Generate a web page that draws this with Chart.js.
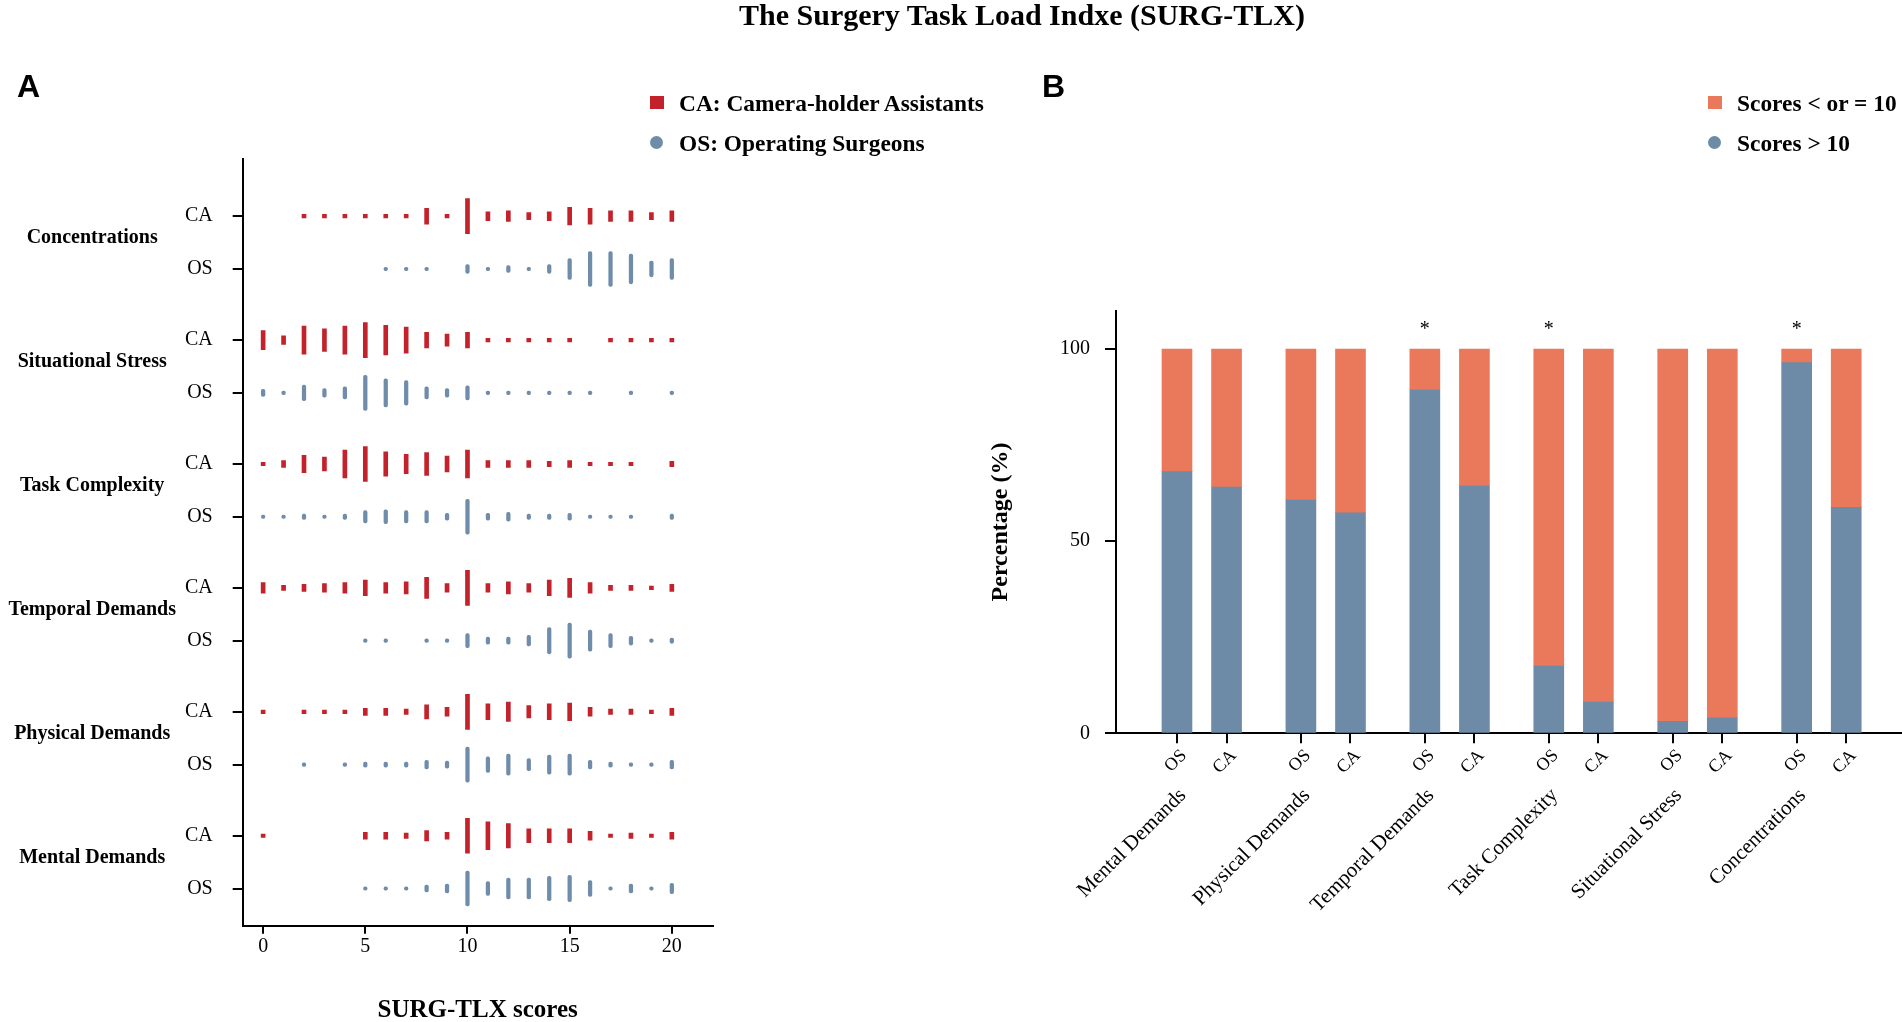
<!DOCTYPE html>
<html><head><meta charset="utf-8">
<script src="https://cdn.jsdelivr.net/npm/chart.js@4.4.1/dist/chart.umd.min.js"></script>
<style>
html,body{margin:0;padding:0;width:1902px;height:1022px;overflow:hidden;background:#fff;}
.abs{position:absolute;}
#title{left:739px;top:0;font:bold 30px/30px "Liberation Serif","Times New Roman",serif;color:#000;white-space:nowrap;}
.panel{top:70px;font:bold 32px/32px "Liberation Sans",Arial,sans-serif;color:#000;}
.leg{position:absolute;height:26px;display:flex;align-items:center;white-space:nowrap;font:bold 23.4px/26px "Liberation Serif","Times New Roman",serif;color:#000;}
.mk{display:flex;align-items:center;justify-content:center;width:15px;height:26px;}
</style></head><body>
<canvas id="cA" class="abs" width="760" height="1026" style="left:0;top:0;width:760px;height:1026px"></canvas>
<canvas id="cB" class="abs" width="916" height="1022" style="left:986px;top:0;width:916px;height:1022px"></canvas>
<div id="title" class="abs">The Surgery Task Load Indxe (SURG-TLX)</div>
<div class="abs panel" style="left:17px">A</div>
<div class="abs panel" style="left:1042px">B</div>
<div id="legends"></div>
<script>
// ---------- DATA ----------
const scores = [0,1,2,3,4,5,6,7,8,9,10,11,12,13,14,15,16,17,18,19,20];
const groups = ['Mental Demands','Physical Demands','Temporal Demands','Task Complexity','Situational Stress','Concentrations'];
const xTicksA = [0,5,10,15,20];

// Panel A: relative frequency of each score (mark length), per dimension and role
const caMental        = [1,0,0,0,0,2,2,1.5,3,2,10,8,7,4,4,4,2.5,1,1.5,1,2];
const osMental        = [0,0,0,0,0,1,1,1,2,2.5,10,4,6,6,7,7.5,4.5,1,2.5,1,3];
const caPhysical      = [1,0,1,1,1,2,2,1.5,4,2.5,10,4.5,5.5,3.5,4.5,5,2.5,1.5,1.5,1,2];
const osPhysical      = [0,0,1,0,1,1.5,1.5,1.5,2.5,2,10,4.5,6,3.5,5.5,6,2.5,1.5,1,1,2.5];
const caTemporal      = [3,1.5,2,2.5,3,4.5,3,3.5,6,2.5,10,2.5,3.5,2.5,4.5,5.5,3,1.5,1.5,1,2];
const osTemporal      = [0,0,0,0,0,1,1,0,1,1,4,2,2,3,7.5,10,6,4,2.5,1,1.5];
const caTask          = [1,2,5,4,8,10,7,5.5,6.5,4.5,8,2,2,2,1.5,2,1,1,1,0,1.5];
const osTask          = [1,1,1.5,1,1.5,3.5,4,3.5,3.5,2,10,2,2.5,1.5,1.5,2,1,1,1,0,1.5];
const caSituational   = [5.5,2.5,8,6.5,8,10,8.5,7.5,4.5,3.5,4.5,1,1,1,1,1,0,1,1,1,1];
const osSituational   = [2,1,4.5,2.5,3.5,10,8,7,3.5,2.5,4,1,1,1,1,1,1,0,1,0,1];
const caConcentration = [0,0,1,1,1,1,1,1,4.5,1,10,2.5,3,2,2.5,5,4.5,3,3,2,3];
const osConcentration = [0,0,0,0,0,0,1,1,1,0,2.5,1,2,1,2.5,6,10,10,8.5,4.5,6];

// Panel B: percentages
const osAbove10  = [68.1, 60.7, 89.5, 17.5, 3.1, 96.5];
const caAbove10  = [64.1, 57.4, 64.5, 8.1, 4.0, 58.8];
const osAtMost10 = [31.9, 39.3, 10.5, 82.5, 96.9, 3.5];
const caAtMost10 = [35.9, 42.6, 35.5, 91.9, 96.0, 41.2];
const significant = [false, false, true, true, false, true];
const yTicksB = [0, 50, 100];

// ---------- STYLE / LAYOUT ----------
const SERIF = '"Liberation Serif","Times New Roman",serif';
const RED = '#C3222B', BLUE = '#6F8DAB', ORANGE_B = '#EA785A', BLUE_B = '#6D8AA7';
const CA_OFFSET_A = 0.426, GROUP_LABEL_OFFSET_A = 0.25, HALF_PER_UNIT = 0.01412;
const CA_OFFSET_B = 0.4;

const caRows = [caMental, caPhysical, caTemporal, caTask, caSituational, caConcentration];
const osRows = [osMental, osPhysical, osTemporal, osTask, osSituational, osConcentration];

function stripData(rows, offset) {
  const out = [];
  rows.forEach((row, g) => row.forEach((v, i) => {
    if (v > 0) { const c = g + offset; out.push({x: scores[i], y: [c - v * HALF_PER_UNIT, c + v * HALF_PER_UNIT]}); }
  }));
  return out;
}
const rowTicks = [], rowLabels = [];
groups.forEach((g, i) => { rowTicks.push(i); rowLabels.push('OS'); rowTicks.push(i + CA_OFFSET_A); rowLabels.push('CA'); });
const groupTicksA = groups.map((g, i) => i + GROUP_LABEL_OFFSET_A);

const axisGrid = (len) => ({drawOnChartArea: false, offset: false, color: '#000', lineWidth: 2, tickLength: len});
const axisBorder = {display: true, color: '#000', width: 2};

const chartA = new Chart(document.getElementById('cA'), {
  type: 'bar',
  data: {datasets: [
    {label: 'CA: Camera-holder Assistants', data: stripData(caRows, CA_OFFSET_A), backgroundColor: RED,
     barThickness: 4, grouped: false, borderWidth: 0, borderRadius: 0, legendShape: 'rect'},
    {label: 'OS: Operating Surgeons', data: stripData(osRows, 0), backgroundColor: BLUE,
     barThickness: 3.6, grouped: false, borderWidth: 0, borderRadius: 2, borderSkipped: false, legendShape: 'circle'}
  ]},
  options: {
    responsive: false, animation: false, events: [],
    layout: {padding: {top: 159.3, right: 47.3, bottom: 0, left: 0}},
    plugins: {legend: {display: false}, tooltip: {enabled: false}},
    scales: {
      x: {type: 'linear', min: -1, max: 22, offset: false,
          afterBuildTicks: s => { s.ticks = xTicksA.map(v => ({value: v})); },
          afterFit: s => { s.height = 100.3; },
          grid: axisGrid(8), border: axisBorder,
          ticks: {color: '#000', font: {family: SERIF, size: 20}, padding: 1, maxRotation: 0, autoSkip: false},
          title: {display: true, text: 'SURG-TLX scores', color: '#000', font: {family: SERIF, size: 25, weight: 'bold'}, padding: 0}},
      y: {type: 'linear', position: 'left', weight: 0, min: -0.3, max: 5.885,
          afterBuildTicks: s => { s.ticks = rowTicks.map(v => ({value: v})); },
          afterFit: s => { s.width = 62.7; },
          grid: axisGrid(10), border: axisBorder,
          ticks: {color: '#000', font: {family: SERIF, size: 20}, padding: 20, autoSkip: false, callback: (v, i) => rowLabels[i]}},
      yg: {type: 'linear', position: 'left', weight: 1, min: -0.3, max: 5.885,
           afterBuildTicks: s => { s.ticks = groupTicksA.map(v => ({value: v})); },
           afterFit: s => { s.width = 180; },
           grid: {display: false, drawTicks: false}, border: {display: false},
           ticks: {color: '#000', font: {family: SERIF, size: 20, weight: 'bold'}, padding: 4, crossAlign: 'center', autoSkip: false, callback: (v, i) => groups[i]}}
    }
  }
});

// Panel B
const barTicks = [], barLabels = [];
groups.forEach((g, i) => { barTicks.push(i); barLabels.push('OS'); barTicks.push(i + CA_OFFSET_B); barLabels.push('CA'); });
const pairData = (osVals, caVals) => {
  const out = [];
  groups.forEach((g, i) => { out.push({x: i, y: osVals[i]}); out.push({x: i + CA_OFFSET_B, y: caVals[i]}); });
  return out;
};
const sigPlugin = {
  id: 'sig',
  afterDatasetsDraw(chart) {
    const {ctx, scales} = chart;
    ctx.save();
    ctx.font = '20px ' + SERIF; ctx.fillStyle = '#000'; ctx.textAlign = 'center'; ctx.textBaseline = 'middle';
    significant.forEach((s, g) => { if (s) ctx.fillText('*', scales.x.getPixelForValue(g), scales.y.getPixelForValue(100) - 19); });
    ctx.restore();
  }
};
const chartB = new Chart(document.getElementById('cB'), {
  type: 'bar',
  data: {datasets: [
    {label: 'Scores > 10', data: pairData(osAbove10, caAbove10), backgroundColor: BLUE_B, barThickness: 30, borderWidth: 0, legendShape: 'circle'},
    {label: 'Scores < or = 10', data: pairData(osAtMost10, caAtMost10), backgroundColor: ORANGE_B, barThickness: 30, borderWidth: 0, legendShape: 'rect'}
  ]},
  plugins: [sigPlugin],
  options: {
    responsive: false, animation: false, events: [],
    layout: {padding: {top: 310.7, right: 0, bottom: 0, left: 0}},
    plugins: {legend: {display: false}, tooltip: {enabled: false}},
    scales: {
      x: {type: 'linear', position: 'bottom', weight: 0, min: -0.492, max: 5.85, offset: false, stacked: true,
          afterBuildTicks: s => { s.ticks = barTicks.map(v => ({value: v})); },
          afterFit: s => { s.height = 50; },
          grid: axisGrid(10), border: axisBorder,
          ticks: {color: '#000', font: {family: SERIF, size: 18}, minRotation: 45, maxRotation: 45, autoSkip: false, padding: 2, labelOffset: 7,
                  callback: (v, i) => barLabels[i]}},
      xg: {type: 'linear', position: 'bottom', weight: 1, min: -0.492, max: 5.85, offset: false,
           afterBuildTicks: s => { s.ticks = groups.map((g, i) => ({value: i})); },
           afterFit: s => { s.height = 238.7; },
           grid: {display: false, drawTicks: false}, border: {display: false},
           ticks: {color: '#000', font: {family: SERIF, size: 21}, minRotation: 45, maxRotation: 45, autoSkip: false, padding: 0, labelOffset: 6,
                   callback: (v, i) => groups[i]}},
      y: {type: 'linear', min: 0, max: 110, stacked: true,
          afterBuildTicks: s => { s.ticks = yTicksB.map(v => ({value: v})); },
          afterFit: s => { s.width = 130; },
          grid: axisGrid(11), border: axisBorder,
          ticks: {color: '#000', font: {family: SERIF, size: 20}, padding: 15},
          title: {display: true, text: 'Percentage (%)', color: '#000', font: {family: SERIF, size: 24, weight: 'bold'}, padding: 0}}
    }
  }
});

// HTML legends generated from the charts' datasets
function buildLegend(chart, order, left, gap) {
  const host = document.getElementById('legends');
  order.forEach((di, row) => {
    const ds = chart.data.datasets[di];
    const item = document.createElement('div');
    item.className = 'leg';
    item.style.left = left + 'px';
    item.style.top = (89.5 + row * 40) + 'px';
    const mk = document.createElement('span'); mk.className = 'mk';
    const shape = document.createElement('span');
    if (ds.legendShape === 'circle') { shape.style.cssText = 'width:13px;height:13px;border-radius:50%;background:' + ds.backgroundColor; }
    else { shape.style.cssText = 'width:14px;height:13px;background:' + ds.backgroundColor; }
    mk.appendChild(shape);
    const tx = document.createElement('span'); tx.textContent = ds.label; tx.style.marginLeft = gap + 'px';
    item.appendChild(mk); item.appendChild(tx);
    host.appendChild(item);
  });
}
buildLegend(chartA, [0, 1], 649, 15);
buildLegend(chartB, [1, 0], 1707, 15);
</script>
</body></html>
